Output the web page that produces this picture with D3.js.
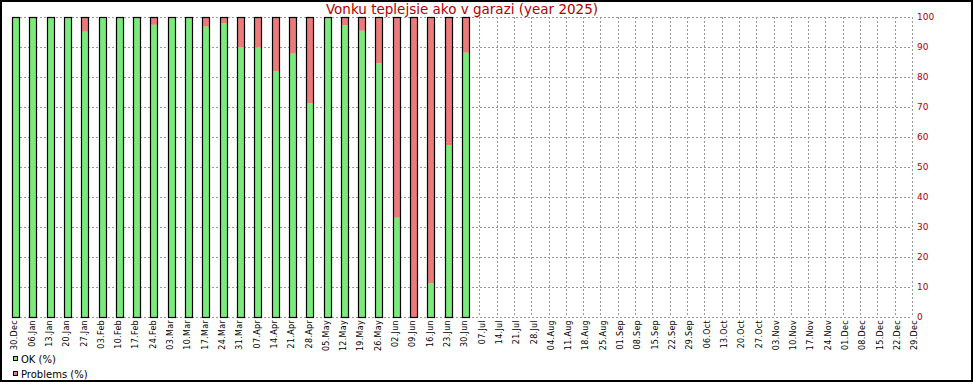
<!DOCTYPE html>
<html>
<head>
<meta charset="utf-8">
<script src="https://cdn.jsdelivr.net/npm/d3@7"></script>
<style>
  html, body { margin: 0; padding: 0; background: #fff; }
  svg { display: block; font-family: "DejaVu Sans", sans-serif; }
</style>
</head>
<body>
<svg id="chart" width="973" height="382"></svg>
<script>
const title = "Vonku teplejsie ako v garazi (year 2025)";
const weekLabels = ["30.Dec","06.Jan","13.Jan","20.Jan","27.Jan","03.Feb","10.Feb","17.Feb","24.Feb","03.Mar","10.Mar","17.Mar","24.Mar","31.Mar","07.Apr","14.Apr","21.Apr","28.Apr","05.May","12.May","19.May","26.May","02.Jun","09.Jun","16.Jun","23.Jun","30.Jun","07.Jul","14.Jul","21.Jul","28.Jul","04.Aug","11.Aug","18.Aug","25.Aug","01.Sep","08.Sep","15.Sep","22.Sep","29.Sep","06.Oct","13.Oct","20.Oct","27.Oct","03.Nov","10.Nov","17.Nov","24.Nov","01.Dec","08.Dec","15.Dec","22.Dec","29.Dec"];
const okValues = [100,100,100,100,95.1,100,100,100,97.4,100,100,96.8,98,90,89.9,82,87.8,71.3,100,97.2,95.4,84.6,33.1,0,11.3,57.3,88.1];
const problemValues = [0,0,0,0,4.9,0,0,0,2.6,0,0,3.2,2,10,10.1,18,12.2,28.7,0,2.8,4.6,15.4,66.9,100,88.7,42.7,11.9];
const yTicks = [0,10,20,30,40,50,60,70,80,90,100];
const seriesNames = ["OK (%)", "Problems (%)"];
const seriesColors = ["#7aeb7a", "#eb7a7a"];

(function () {
const svg = d3.select("#chart");
const W = 973, H = 382;
const pLeft = 12, pRight = 912, pTop = 17, pBottom = 317;
const red = "#b00000";

svg.append("rect").attr("x", 1).attr("y", 1).attr("width", W - 2).attr("height", H - 2)
  .attr("fill", "#fff").attr("stroke", "#000").attr("stroke-width", 2);

const x = d3.scalePoint().domain(weekLabels).range([pLeft, pRight]);
const y = d3.scaleLinear().domain([0, 100]).range([pBottom, pTop]);

// grid
const grid = svg.append("g").attr("stroke", "#999").attr("stroke-width", 1).attr("stroke-dasharray", "2,2");
grid.selectAll("line.h").data(yTicks).join("line")
  .attr("x1", pLeft).attr("x2", pRight)
  .attr("y1", d => Math.round(y(d)) + 0.5).attr("y2", d => Math.round(y(d)) + 0.5);
grid.selectAll("line.v").data(weekLabels).join("line")
  .attr("x1", d => Math.round(x(d)) + 0.5).attr("x2", d => Math.round(x(d)) + 0.5)
  .attr("y1", pTop).attr("y2", pBottom);

// bars
const barW = 8;
const rows = okValues.map((v, i) => ({ label: weekLabels[i], ok: v, pr: problemValues[i] }));
const bx = d => Math.round(x(d.label));
const bars = svg.append("g");
bars.selectAll("rect.ok").data(rows).join("rect").attr("class", "ok")
  .attr("x", bx).attr("width", barW)
  .attr("y", d => y(d.ok)).attr("height", d => y(0) - y(d.ok))
  .attr("fill", seriesColors[0]);
bars.selectAll("rect.pr").data(rows).join("rect").attr("class", "pr")
  .attr("x", bx).attr("width", barW)
  .attr("y", d => y(d.ok + d.pr)).attr("height", d => y(d.ok) - y(d.ok + d.pr))
  .attr("fill", seriesColors[1]);
bars.selectAll("rect.outline").data(rows).join("rect").attr("class", "outline")
  .attr("x", d => bx(d) + 0.5).attr("width", barW - 1)
  .attr("y", d => y(d.ok + d.pr) + 0.5).attr("height", d => y(0) - y(d.ok + d.pr))
  .attr("fill", "none").attr("stroke", "#000").attr("stroke-width", 1.2);

// right axis labels
const yAxis = d3.axisRight(y).tickValues(yTicks).tickSize(0).tickPadding(5);
const ya = svg.append("g").attr("transform", `translate(${pRight},0)`).call(yAxis);
ya.select(".domain").remove();
ya.selectAll("text").attr("fill", red).attr("font-size", 9).attr("font-family", "DejaVu Sans");

// x labels
const xAxis = d3.axisBottom(x).tickSize(0).tickPadding(0);
const xa = svg.append("g").attr("transform", `translate(0,${pBottom})`).call(xAxis);
xa.select(".domain").remove();
xa.selectAll("text")
  .attr("font-size", 8).attr("font-family", "DejaVu Sans").attr("fill", "#000")
  .attr("text-anchor", "end").attr("letter-spacing", 0.3)
  .attr("transform", "translate(2,3) rotate(-90)")
  .attr("x", 0).attr("y", 0).attr("dy", "0.35em");

// title
svg.append("text").attr("x", (pLeft + pRight) / 2).attr("y", 14)
  .attr("text-anchor", "middle").attr("fill", red).attr("font-size", 13.5)
  .text(title);

// legend
const lg = svg.append("g");
seriesNames.forEach((n, i) => {
  const yy = 356 + i * 15;
  lg.append("rect").attr("x", 13.5).attr("y", yy + 0.5).attr("width", 4).attr("height", 4)
    .attr("fill", seriesColors[i]).attr("stroke", "#000").attr("stroke-width", 1);
  lg.append("text").attr("x", 21).attr("y", yy + 6.5).attr("font-size", 10).attr("fill", "#000").text(n);
});
})();
</script>
</body>
</html>
